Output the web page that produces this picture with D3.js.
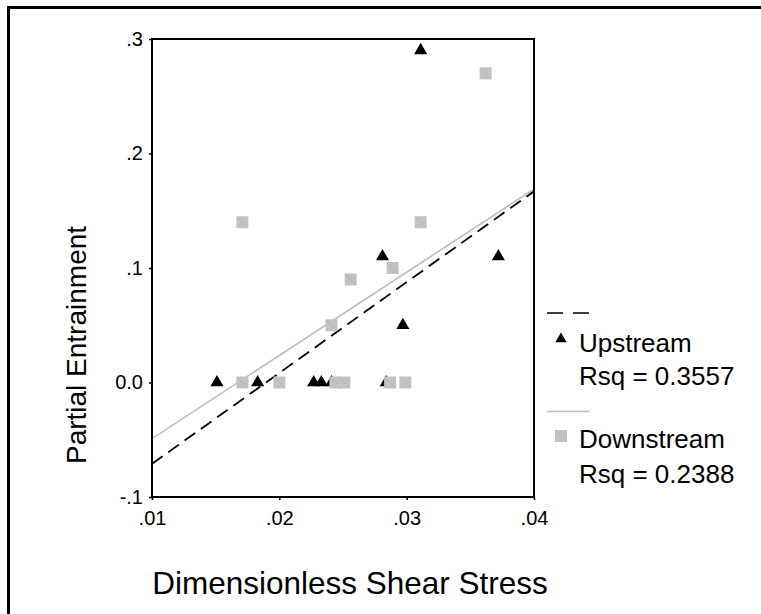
<!DOCTYPE html>
<html>
<head>
<meta charset="utf-8">
<script src="https://cdn.jsdelivr.net/npm/d3@7"></script>
<style>
  body { margin: 0; background: #fff; }
  svg text { font-family: "Liberation Sans", Arial, sans-serif; fill: #000; }
</style>
</head>
<body>
<div class="canvas"></div>
<script>
// Upstream points (triangles)
const upX = [0.0151, 0.0183, 0.0227, 0.0233, 0.0241, 0.0284, 0.0281, 0.0297, 0.0311, 0.0372]
const upY = [0, 0, 0, 0, 0, 0, 0.11, 0.05, 0.29, 0.11]

// Downstream points (squares)
const downX = [0.0171, 0.0200, 0.0244, 0.0251, 0.0287, 0.0299, 0.0171, 0.0241, 0.0256, 0.0289, 0.0311, 0.0362]
const downY = [0, 0, 0, 0, 0, 0, 0.14, 0.05, 0.09, 0.10, 0.14, 0.27]

// fitted lines, value at x = .01 and x = .04
const fitX = [0.01, 0.04]
const fitUp = [-0.071, 0.167]
const fitDown = [-0.049, 0.169]

const xTicks = [0.01, 0.02, 0.03, 0.04]
const xTickLabels = ['.01', '.02', '.03', '.04']
const yTicks = [-0.1, 0, 0.1, 0.2, 0.3]
const yTickLabels = ['-.1', '0.0', '.1', '.2', '.3']

const legendLabels = ['Upstream', 'Downstream']
const rsqLabels = ['Rsq = 0.3557', 'Rsq = 0.2388']

const width = 761, height = 614
const font = '"Liberation Sans", Arial, sans-serif'

const svg = d3.select('.canvas').append('svg').attr('width', width).attr('height', height)

// outer frame (runs off the right and bottom)
svg.append('rect')
    .attr('x', 8.5).attr('y', 7.5)
    .attr('width', 780).attr('height', 640)
    .attr('fill', 'none').attr('stroke', '#000').attr('stroke-width', 3)

const plot = { left: 152, right: 534, top: 39, bottom: 497 }

const x = d3.scaleLinear().domain([0.01, 0.04]).range([plot.left, plot.right])
const y = d3.scaleLinear().domain([-0.1, 0.3]).range([plot.bottom, plot.top])

svg.append('clipPath').attr('id', 'clip')
    .append('rect')
    .attr('x', plot.left).attr('y', plot.top)
    .attr('width', plot.right - plot.left).attr('height', plot.bottom - plot.top)

const graph = svg.append('g')

// fit lines
const line = d3.line().x(d => x(d[0])).y(d => y(d[1]))

graph.append('path')
    .attr('d', line(fitX.map((v, i) => [v, fitDown[i]])))
    .attr('clip-path', 'url(#clip)')
    .attr('fill', 'none').attr('stroke', '#bdbdbd').attr('stroke-width', 1.6)

graph.append('path')
    .attr('d', line(fitX.map((v, i) => [v, fitUp[i]])))
    .attr('clip-path', 'url(#clip)')
    .attr('fill', 'none').attr('stroke', '#000').attr('stroke-width', 1.8)
    .attr('stroke-dasharray', '13,7')

// points
const tri = d3.symbol().type(d3.symbolTriangle).size(75)
const sq = 12

graph.selectAll('path.up')
    .data(upX.map((v, i) => [v, upY[i]]))
    .enter()
    .append('path')
    .attr('class', 'up')
    .attr('d', tri)
    .attr('transform', d => `translate(${x(d[0])}, ${y(d[1])})`)
    .attr('fill', '#000')

const squares = graph.selectAll('g.down')
    .data(downX.map((v, i) => [v, downY[i]]))
    .enter()
    .append('g')
    .attr('class', 'down')
    .attr('transform', d => `translate(${x(d[0]) - sq / 2}, ${y(d[1]) - sq / 2})`)

squares.append('rect')
    .attr('width', sq).attr('height', sq)
    .attr('fill', '#c2c2c2')

// faint diagonal seen on each square marker
squares.append('line')
    .attr('x1', 1).attr('y1', 1).attr('x2', sq - 1).attr('y2', sq - 1)
    .attr('stroke', '#adadad').attr('stroke-width', 0.7)

// frame of plot area
svg.append('rect')
    .attr('x', plot.left).attr('y', plot.top)
    .attr('width', plot.right - plot.left).attr('height', plot.bottom - plot.top)
    .attr('fill', 'none').attr('stroke', '#000').attr('stroke-width', 2)

// axes
const xAxis = d3.axisBottom(x).tickValues(xTicks).tickSize(3).tickPadding(11)
    .tickFormat((d, i) => xTickLabels[i])
const yAxis = d3.axisLeft(y).tickValues(yTicks).tickSize(3).tickPadding(6)
    .tickFormat((d, i) => yTickLabels[i])

const xAxisGroup = svg.append('g').attr('transform', `translate(0, ${plot.bottom})`).call(xAxis)
const yAxisGroup = svg.append('g').attr('transform', `translate(${plot.left}, 0)`).call(yAxis)

xAxisGroup.select('.domain').remove()
yAxisGroup.select('.domain').remove()
xAxisGroup.selectAll('line').attr('stroke', '#000').attr('stroke-width', 1.5)
yAxisGroup.selectAll('line').attr('stroke', '#000').attr('stroke-width', 1.5)
xAxisGroup.selectAll('text').attr('font-size', 20).attr('font-family', font)
yAxisGroup.selectAll('text').attr('font-size', 20).attr('font-family', font)

// axis titles
svg.append('text')
    .attr('x', 350).attr('y', 594)
    .attr('text-anchor', 'middle').attr('font-size', 31.5)
    .text('Dimensionless Shear Stress')

svg.append('text')
    .attr('transform', `translate(86, 345) rotate(-90)`)
    .attr('text-anchor', 'middle').attr('font-size', 28)
    .text('Partial Entrainment')

// legend
const legend = svg.append('g')

legend.append('line')
    .attr('x1', 547).attr('x2', 590).attr('y1', 313).attr('y2', 313)
    .attr('stroke', '#000').attr('stroke-width', 1.5).attr('stroke-dasharray', '16,10')

legend.append('path').attr('d', d3.symbol().type(d3.symbolTriangle).size(55))
    .attr('transform', 'translate(561, 339)').attr('fill', '#000')

legend.append('line')
    .attr('x1', 547).attr('x2', 590).attr('y1', 411.5).attr('y2', 411.5)
    .attr('stroke', '#bdbdbd').attr('stroke-width', 1.5)

legend.append('rect').attr('x', 555).attr('y', 430).attr('width', 12).attr('height', 12)
    .attr('fill', '#c2c2c2')
legend.append('line').attr('x1', 556).attr('y1', 431).attr('x2', 566).attr('y2', 441)
    .attr('stroke', '#adadad').attr('stroke-width', 0.7)

legend.selectAll('text.name')
    .data(legendLabels)
    .enter()
    .append('text')
    .attr('class', 'name')
    .attr('x', 579).attr('y', (d, i) => 352 + i * 96)
    .attr('font-size', 26)
    .text(d => d)

legend.selectAll('text.rsq')
    .data(rsqLabels)
    .enter()
    .append('text')
    .attr('class', 'rsq')
    .attr('x', 579).attr('y', (d, i) => 385 + i * 98)
    .attr('font-size', 26)
    .text(d => d)
</script>
</body>
</html>
